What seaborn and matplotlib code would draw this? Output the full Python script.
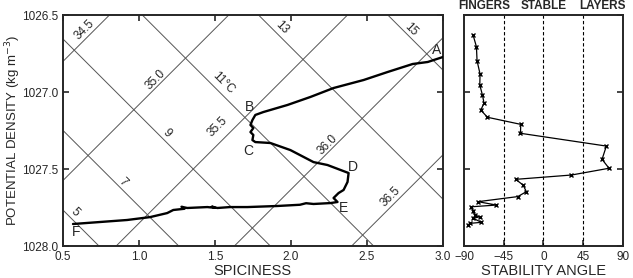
import numpy as np
import pandas as pd
import matplotlib
matplotlib.use("Agg")
import matplotlib.pyplot as plt
import seaborn as sns

# ---- data ----
spice = [3.00, 2.901, 2.802, 2.637, 2.479, 2.281, 2.129, 1.978, 1.819, 1.766, 1.747, 1.734,
         1.753, 1.734, 1.753, 1.747, 1.766, 1.865, 1.997, 2.149, 2.241, 2.380, 2.373, 2.347,
         2.314, 2.281, 2.307, 2.261, 2.149, 2.10, 2.06, 1.912, 1.714, 1.60, 1.516, 1.48, 1.50,
         1.450, 1.318, 1.28, 1.30, 1.226, 1.186, 1.074, 0.922, 0.744, 0.566]
density = [1026.773, 1026.805, 1026.818, 1026.870, 1026.922, 1026.974, 1027.032, 1027.084,
           1027.130, 1027.149, 1027.182, 1027.214, 1027.234, 1027.260, 1027.279, 1027.312,
           1027.325, 1027.331, 1027.377, 1027.455, 1027.474, 1027.526, 1027.584, 1027.636,
           1027.656, 1027.688, 1027.714, 1027.721, 1027.727, 1027.722, 1027.732, 1027.740,
           1027.747, 1027.747, 1027.753, 1027.744, 1027.752, 1027.747, 1027.753, 1027.745,
           1027.758, 1027.766, 1027.786, 1027.812, 1027.831, 1027.844, 1027.857]

angle = [-79.7, -75.9, -75.2, -71.8, -72.1, -69.1, -67.3, -71.0, -63.4, -25.7, -26.0, 71.3,
         66.4, 74.3, 31.7, -31.4, -23.1, -19.3, -29.1, -74.1, -53.2, -81.5, -79.7, -77.8,
         -72.1, -79.7, -70.2, -83.5, -85.4]
angle_density = [1026.630, 1026.706, 1026.797, 1026.883, 1026.955, 1027.019, 1027.073,
                 1027.117, 1027.164, 1027.210, 1027.268, 1027.351, 1027.437, 1027.495,
                 1027.539, 1027.567, 1027.604, 1027.647, 1027.679, 1027.712, 1027.734,
                 1027.745, 1027.773, 1027.799, 1027.810, 1027.820, 1027.846, 1027.853,
                 1027.864]

# isohalines / isotherms: spiciness where each line meets density 1028.0
sal_labels = ["34.5", "35.0", "35.5", "36.0", "36.5"]
sal_x0 = [-0.717, 0.068, 0.850, 1.628, 2.400]
temp_labels = ["5", "7", "9", "11°C", "13", "15"]
temp_x0 = [0.737, 1.262, 1.865, 2.545, 3.310, 4.161]
line_slope = 0.985

sal_label_pos = [(0.645, 1026.597), (1.107, 1026.922), (1.516, 1027.227),
                 (2.241, 1027.344), (2.657, 1027.682)]
temp_label_pos = [(0.579, 1027.779), (0.896, 1027.584), (1.186, 1027.266),
                  (1.555, 1026.942), (1.938, 1026.578), (2.789, 1026.597)]

point_labels = ["A", "B", "C", "D", "E", "F"]
point_pos = [(2.960, 1026.727), (1.727, 1027.097), (1.720, 1027.383),
             (2.406, 1027.487), (2.347, 1027.753), (0.586, 1027.909)]

x_ticks = [0.5, 1.0, 1.5, 2.0, 2.5, 3.0]
y_ticks = [1026.5, 1027.0, 1027.5, 1028.0]
a_ticks = [-90, -45, 0, 45, 90]
regime_labels = ["FINGERS", "STABLE", "LAYERS"]
regime_x = [-67, 0, 67]

# ---- style ----
sns.set_style("ticks")
plt.rcParams["font.family"] = ["Liberation Sans", "DejaVu Sans"]
plt.rcParams["axes.linewidth"] = 1.4

fig = plt.figure(figsize=(6.33, 2.78), dpi=100)
ax = fig.add_axes([0.0995, 0.115, 0.600, 0.831])
ax2 = fig.add_axes([0.733, 0.115, 0.251, 0.831])

# grid lines
xx = np.array([-1.5, 4.5])
for x0 in sal_x0:
    ax.plot(xx, 1028.0 - line_slope * (xx - x0), color="#555555", lw=0.7, zorder=1)
for x0 in temp_x0:
    ax.plot(xx, 1028.0 + line_slope * (xx - x0), color="#555555", lw=0.7, zorder=1)
for lab, (px, py) in zip(sal_labels, sal_label_pos):
    ax.text(px, py, lab, rotation=45, ha="center", va="center", fontsize=8.5, zorder=3)
for lab, (px, py) in zip(temp_labels, temp_label_pos):
    ax.text(px, py, lab, rotation=-45, ha="center", va="center", fontsize=8.5, zorder=3)

df = pd.DataFrame({"spice": spice, "density": density})
sns.lineplot(data=df, x="spice", y="density", sort=False, estimator=None,
             color="black", lw=1.7, ax=ax, zorder=4)
for lab, (px, py) in zip(point_labels, point_pos):
    ax.text(px, py, lab, ha="center", va="center", fontsize=10, zorder=5)

ax.set_xlim(0.5, 3.0)
ax.set_ylim(1028.0, 1026.5)
ax.set_xticks(x_ticks)
ax.set_xticklabels([f"{v:.1f}" for v in x_ticks])
ax.set_yticks(y_ticks)
ax.set_yticklabels([f"{v:.1f}" for v in y_ticks])
ax.tick_params(direction="in", top=True, right=True, labelsize=8.5, length=4, width=1.2)
ax.set_xlabel("SPICINESS", fontsize=10.5, labelpad=1)
ax.set_ylabel("POTENTIAL DENSITY (kg m$^{-3}$)", fontsize=9.5, va="center")
ax.yaxis.set_label_coords(-0.13, 0.5)
for s in ax.spines.values():
    s.set_visible(True)

# right panel
for v in [-45, 0, 45]:
    ax2.axvline(v, color="black", ls=(0, (3, 2)), lw=0.8, zorder=1)
df2 = pd.DataFrame({"angle": angle, "density": angle_density})
sns.lineplot(data=df2, x="angle", y="density", sort=False, estimator=None,
             color="black", lw=0.9, marker="x", markersize=3, markeredgewidth=1.0,
             markeredgecolor="black", ax=ax2, zorder=4)
ax2.set_xlim(-90, 90)
ax2.set_ylim(1028.0, 1026.5)
ax2.set_xticks(a_ticks)
ax2.set_xticklabels([str(v).replace("-", "\u2212") for v in a_ticks])
ax2.set_yticks(y_ticks)
ax2.set_yticklabels([])
ax2.tick_params(direction="in", top=False, right=True, labelsize=8.5, length=4, width=1.2)
ax2.set_xlabel("STABILITY ANGLE", fontsize=10.5, labelpad=1)
ax2.set_ylabel("")
for lab, rx in zip(regime_labels, regime_x):
    ax2.text(rx, 1.015, lab, transform=ax2.get_xaxis_transform(), ha="center",
             va="bottom", fontsize=8.5, fontweight="bold")
for s in ax2.spines.values():
    s.set_visible(True)

fig.savefig("out.png", dpi=100)
